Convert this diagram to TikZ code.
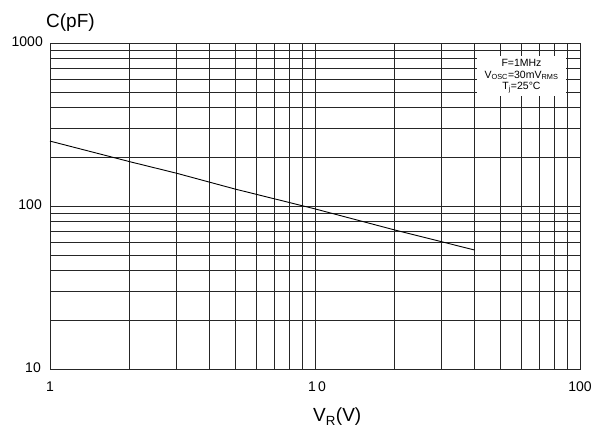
\documentclass[tikz,border=0pt]{standalone}
\usepackage{fontspec}
\setmainfont{Liberation Sans}

\begin{document}
\begin{tikzpicture}[x=1pt, y=1pt,
	grid/.style={black!85, line width=0.8pt},
	curve/.style={black, line width=0.9pt},
	tick/.style={font=\fontsize{14}{14}\selectfont, inner sep=0pt},
	axis/.style={font=\fontsize{19}{19}\selectfont, inner sep=0pt},
	legend/.style={fill=white, inner sep=0pt, minimum width=89pt, minimum height=40pt,
		align=center, font=\fontsize{10.5}{11.8}\selectfont}]
	\useasboundingbox (0,0) rectangle (605,438);

	% grid: 265pt per decade in V, 163pt per decade in C
	\foreach \d in {0,1} {
		\foreach \m in {1,...,9} {
			\draw [grid] ({50+265*(\d+log10(\m))},69) -- ++(0,326);
			\draw [grid] (50,{69+163*(\d+log10(\m))}) -- ++(530,0);
		}
	}
	\draw [grid] (50,69) rectangle (580,395);

	% C against V_R
	\draw [curve] plot coordinates {(50,296.9) (129.8,276.3) (176.4,264.8)
		(235.2,248.9) (315,229.1) (394.8,208) (474.5,188)};

	\node [legend] (cond) at (521.5,362)
		{F=1MHz\\V\textsubscript{OSC}=30mV\textsubscript{RMS}\\T\textsubscript{j}=25°C};

	\node [tick, anchor=east] (y1000) at (43,396) {1000};
	\node [tick, anchor=east] (y100) at (42,233) {100};
	\node [tick, anchor=east] (y10) at (41,70) {10};
	\node [tick] (x1) at (50,51) {1};
	\node [tick] (x10) at (317,51) {1\,0};
	\node [tick] (x100) at (580,51) {100};

	\node [axis, anchor=base west] (ylab) at (46,410) {C(pF)};
	\node [axis, anchor=base west] (xlab) at (313,16) {V\textsubscript{R}(V)};
\end{tikzpicture}
\end{document}
